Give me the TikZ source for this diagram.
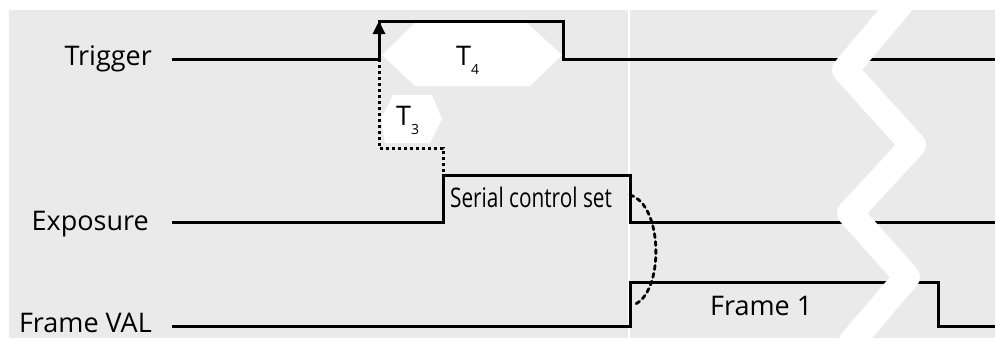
\documentclass[tikz,border=0pt]{standalone}
\usepackage{fontspec}
\setmainfont{Open Sans}
\usetikzlibrary{arrows.meta}
\definecolor{bggray}{RGB}{234,234,234}
\tikzset{
  signal/.style={line width=3pt},
  lbl/.style={font=\fontsize{27}{30}\selectfont, inner sep=0pt},
  delay/.style={line width=3pt, dash pattern=on 3pt off 3pt},
}
\newcommand{\tsub}[2]{#1\raisebox{-9pt}{\fontsize{14}{14}\selectfont #2}}
\begin{document}
\begin{tikzpicture}[x=1pt,y=-1pt]
  \useasboundingbox (0,0) rectangle (995,338);
  \fill[bggray] (9,10) rectangle (995,338);
  \draw[white, line width=2pt] (629,10) -- (629,338);
  % delay windows
  \fill[white] (382,55) -- (415,23) -- (527,23) -- (562,55) -- (530,86) -- (415,86) -- cycle;
  \fill[white] (381,119) -- (393,95) -- (432,95) -- (442,119) -- (430,143) -- (385,143) -- cycle;
  % key points
  \coordinate (trigup) at (379,21);
  \coordinate (expup) at (443,175);
  \coordinate (expdown) at (630,195);
  \coordinate (valup) at (633,305);
  % signals
  \draw[signal] (172,59) -- (379,59) -- (trigup) -- (563,21) -- (563,59) -- (995,59);
  \draw[signal] (172,222) -- (443,222) -- (expup) -- (630,175) -- (630,222) -- (995,222);
  \draw[signal] (172,326) -- (630,326) -- (630,282) -- (938,282) -- (938,326) -- (995,326);
  % T3 delay
  \draw[delay, -{Triangle[length=13pt,width=12pt]}]
    ([yshift=-3pt]expup) -- (443,148) -- (379,148) -- (trigup);
  % exposure end to frame start
  \draw[line width=2.8pt, dash pattern=on 4pt off 4pt, line cap=round]
    (expdown) .. controls (664,205) and (664,295) .. (valup);
  % break
  \draw[white, line width=26pt, line join=round]
    (908,-5) -- (845,70) -- (913,145) -- (850,213) -- (907,277) -- (849,345);
  % labels
  \node[lbl, anchor=base east] (trigger) at (152,65) {Trigger};
  \node[lbl, anchor=base east] (exposure) at (149,230) {Exposure};
  \node[lbl, anchor=base east] (frameval) at (152,332) {Frame VAL};
  \node[lbl, anchor=base west] (tfour) at (456,65) {\tsub{T}{4}};
  \node[lbl, anchor=base west] (tthree) at (396,125) {\tsub{T}{3}};
  \node[lbl, anchor=base west, xscale=0.77] (serial) at (450,207) {Serial control set};
  \node[lbl, anchor=base west] (frame) at (710,315) {Frame 1};
\end{tikzpicture}
\end{document}
